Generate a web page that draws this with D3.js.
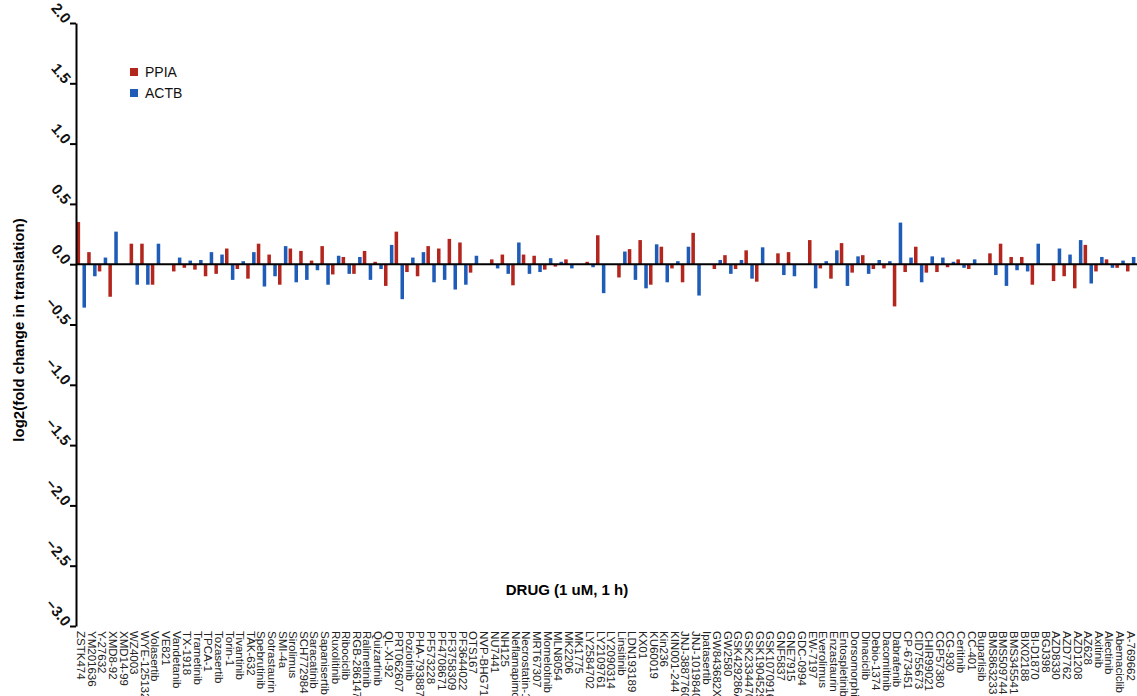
<!DOCTYPE html>
<html>
<head>
<meta charset="utf-8">
<script src="https://cdn.jsdelivr.net/npm/d3@7"></script>
<style>
  body { margin: 0; background: #fff; }
  svg { display: block; font-family: 'Liberation Sans', Arial, sans-serif; }
</style>
</head>
<body>
<svg id="chart" width="1137" height="696"></svg>
<script>
const drugs = ['ZSTK474', 'YM201636', 'Y-27632', 'XMD8-92', 'XMD14-99', 'WZ4003', 'WYE-125132', 'Volasertib', 'VE821', 'Vandetanib',
  'TX-1918', 'Trametinib', 'TPCA-1', 'Tozasertib', 'Torin-1', 'Tivantinib', 'TAK-632', 'Spebrutinib', 'Sotrastaurin', 'SMI-4a',
  'Sirolimus', 'SCH772984', 'Saracatinib', 'Sapanisertib', 'Ruxolitinib', 'Ribociclib', 'RGB-286147', 'Ralimetinib', 'Quizartinib', 'QL-XI-92',
  'PRT062607', 'Poziotinib', 'PHA-793887', 'PF573228', 'PF4708671', 'PF3758309', 'PF3644022', 'OTS167', 'NVP-BHG712', 'NU7441',
  'NH125', 'Neflamapimod', 'Necrostatin-1', 'MRT67307', 'Momelotinib', 'MLN8054', 'MK2206', 'MK1775', 'LY2584702', 'LY2109761',
  'LY2090314', 'Linsitinib', 'LDN193189', 'KX01', 'KU60019', 'Kin236', 'KIN001-244', 'JNJ-38877605', 'JNJ-10198409', 'Ipatasertib',
  'GW843682X', 'GW2580', 'GSK429286A', 'GSK2334470', 'GSK1904529A', 'GSK1070916', 'GNF5837', 'GNE7915', 'GDC-0994', 'EW-7197',
  'Everolimus', 'Enzastaurin', 'Entospletinib', 'Dorsomorphin', 'Dinaciclib', 'Debio-1374', 'Dacomitinib', 'Dabrafenib', 'CP-673451', 'CID755673',
  'CHIR99021', 'CGP57380', 'CG-930', 'Ceritinib', 'CC-401', 'Buparlisib', 'BMS863233', 'BMS509744', 'BMS345541', 'BIX02188',
  'BI-D1870', 'BGJ398', 'AZD8330', 'AZD7762', 'AZD1208', 'AZ628', 'Axitinib', 'Alectinib', 'Abemaciclib', 'A-769662'];

const ppia = [0.35, 0.10, -0.06, -0.27, 0, 0.17, 0.17, -0.17, 0, -0.06,
  -0.03, -0.045, -0.10, -0.08, 0.13, -0.04, -0.12, 0.17, 0.08, -0.17,
  0.13, 0.11, 0.03, 0.15, -0.085, 0.06, -0.08, 0.11, 0.02, -0.18,
  0.27, -0.065, -0.10, 0.15, 0.13, 0.21, 0.18, -0.07, 0, 0.04,
  0.08, -0.175, 0.08, 0.07, -0.045, -0.02, 0.04, 0, 0.02, 0.24,
  0, -0.11, 0.125, 0.20, -0.17, 0.145, -0.035, -0.15, 0.26, 0,
  -0.04, 0.075, -0.04, 0.115, -0.145, 0, 0.09, 0.10, 0, 0.20,
  -0.035, -0.12, 0.175, -0.07, 0.075, -0.04, -0.035, -0.35, -0.065, 0.145,
  -0.07, -0.065, -0.025, 0.04, -0.04, 0, 0.09, 0.17, 0.06, 0.06,
  -0.17, 0, -0.14, -0.10, -0.20, 0.16, -0.06, 0.04, -0.03, -0.06];

const actb = [-0.36, -0.10, 0.055, 0.27, 0, -0.17, -0.17, 0.17, 0, 0.055,
  0.03, 0.035, 0.10, 0.08, -0.13, 0.025, 0.10, -0.185, -0.10, 0.15,
  -0.15, -0.13, -0.05, -0.17, 0.07, -0.08, 0.06, -0.13, -0.04, 0.16,
  -0.29, 0.055, 0.10, -0.15, -0.13, -0.21, -0.17, 0.07, 0, -0.035,
  -0.08, 0.18, -0.08, -0.065, 0.05, 0.02, -0.035, 0, -0.025, -0.24,
  0, 0.105, -0.13, -0.20, 0.165, -0.15, 0.025, 0.145, -0.26, 0,
  0.035, -0.08, 0.035, -0.12, 0.14, 0, -0.09, -0.10, 0, -0.20,
  0.025, 0.115, -0.18, 0.065, -0.08, 0.035, 0.025, 0.345, 0.055, -0.15,
  0.065, 0.055, 0.02, -0.03, 0.04, 0, -0.09, -0.18, -0.05, -0.06,
  0.17, 0, 0.13, 0.08, 0.20, -0.16, 0.06, -0.03, 0.03, 0.06];

const series = ['PPIA', 'ACTB'];
const colors = ['#b3261e', '#1f5cb8'];
const yTicks = [2.0, 1.5, 1.0, 0.5, 0.0, -0.5, -1.0, -1.5, -2.0, -2.5, -3.0];

const svg = d3.select('#chart');
const plotLeft = 76, plotRight = 1136, plotTop = 23, plotBottom = 626;

const x = d3.scaleBand().domain(drugs).range([plotLeft, plotRight]).padding(0);
const xs = d3.scaleBand().domain(series).range([0, x.bandwidth()])
  .paddingInner(0.4).paddingOuter(0.1);
const y = d3.scaleLinear().domain([-3, 2]).range([plotBottom, plotTop]);

const rows = drugs.map((d, i) => ({ drug: d, values: [ppia[i], actb[i]] }));

// bars
const grp = svg.append('g').selectAll('g')
  .data(rows)
  .enter()
  .append('g')
  .attr('transform', d => 'translate(' + x(d.drug) + ',0)');
grp.selectAll('rect')
  .data(d => d.values.map((v, k) => ({ key: series[k], v: v, k: k })))
  .enter()
  .append('rect')
  .attr('x', d => xs(d.key))
  .attr('width', xs.bandwidth())
  .attr('y', d => y(Math.max(0, d.v)))
  .attr('height', d => Math.abs(y(d.v) - y(0)))
  .attr('fill', d => colors[d.k]);

// zero line
svg.append('line')
  .attr('x1', plotLeft).attr('x2', 1137)
  .attr('y1', y(0)).attr('y2', y(0))
  .attr('stroke', '#000').attr('stroke-width', 2);

// y axis
const yAxis = svg.append('g')
  .attr('transform', 'translate(' + plotLeft + ',0)')
  .call(d3.axisLeft(y).tickValues(yTicks).tickFormat(d3.format('.1f')).tickSize(6).tickSizeOuter(0));
yAxis.select('.domain').attr('stroke', '#000').attr('stroke-width', 2);
yAxis.selectAll('.tick line').attr('stroke', '#000').attr('stroke-width', 2);
yAxis.selectAll('.tick text')
  .attr('font-size', 15)
  .attr('font-weight', 'bold')
  .attr('fill', '#111')
  .attr('x', -11)
  .attr('dy', '0.1em')
  .attr('text-anchor', 'end')
  .attr('transform', 'rotate(50,-11,0)');

// x labels
svg.append('g').selectAll('text')
  .data(drugs)
  .enter()
  .append('text')
  .attr('transform', d => 'translate(' + (x(d) + x.bandwidth() / 2) + ',' + 631 + ') rotate(90)')
  .attr('dy', '0.35em')
  .attr('font-size', 11.5)
  .attr('fill', '#222')
  .text(d => d);

// axis titles
svg.append('text')
  .attr('transform', 'translate(24,' + 330 + ') rotate(-90)')
  .attr('text-anchor', 'middle')
  .attr('font-size', 15)
  .attr('font-weight', 'bold')
  .text('log2(fold change in translation)');
svg.append('text')
  .attr('x', 567).attr('y', 595)
  .attr('text-anchor', 'middle')
  .attr('font-size', 15)
  .attr('font-weight', 'bold')
  .text('DRUG (1 uM, 1 h)');

// legend
const leg = svg.append('g').attr('transform', 'translate(130,72)')
  .selectAll('g')
  .data(series)
  .enter()
  .append('g')
  .attr('transform', (d, i) => 'translate(0,' + i * 21 + ')');
leg.append('rect')
  .attr('x', 0).attr('y', -4).attr('width', 8).attr('height', 8)
  .attr('fill', (d, i) => colors[i]);
leg.append('text')
  .attr('x', 15).attr('dy', '0.35em')
  .attr('font-size', 14)
  .attr('fill', '#111')
  .text(d => d);
</script>
</body>
</html>
